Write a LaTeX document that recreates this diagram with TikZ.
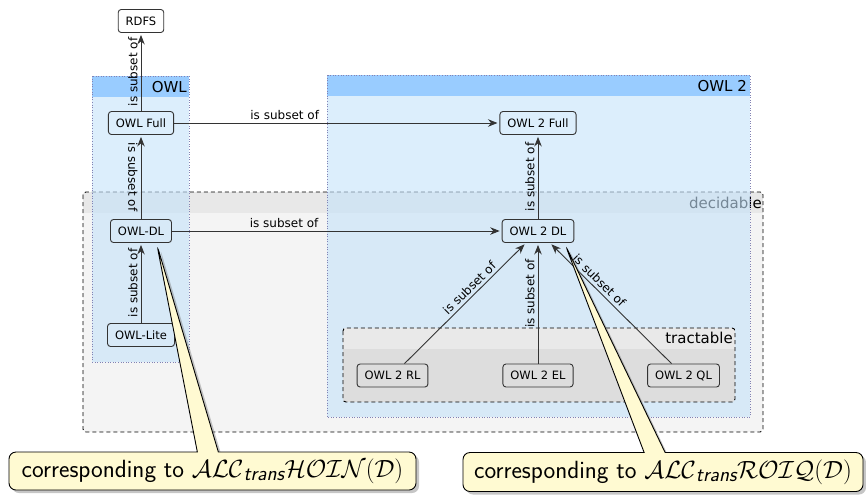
\documentclass[tikz,border=0pt]{standalone}
\usepackage{amsmath}
\usepackage{fontspec}
\setmainfont{DejaVu Sans}
\usetikzlibrary{arrows.meta,shapes.callouts,shadows,calc}
\definecolor{owlfill}{RGB}{196,226,250}
\definecolor{owlhead}{RGB}{85,170,255}
\definecolor{owlline}{RGB}{130,130,180}
\definecolor{decfill}{RGB}{244,244,244}
\definecolor{dechead}{RGB}{232,232,232}
\definecolor{trbody}{RGB}{221,221,221}
\definecolor{trhead}{RGB}{233,233,233}
\definecolor{notefill}{RGB}{255,250,210}
\tikzset{
  lang/.style={draw=black!80, line width=.9pt, rounded corners=3pt, inner xsep=7.5pt, minimum height=23pt, font=\fontsize{11.5}{13}\selectfont},
  sub/.style={-{Stealth[length=9.5pt,width=7.5pt]}, black!80, line width=.9pt, shorten >=2pt},
  lbl/.style={text=black, font=\fontsize{12}{14}\selectfont, inner sep=3pt},
  title/.style={anchor=east, inner sep=0pt, font=\fontsize{15}{17}\selectfont},
  area/.style={line width=.9pt, dash pattern=on 4pt off 3pt, rounded corners=3pt},
  note/.style={rectangle callout, draw=black, line width=.9pt, fill=notefill, rounded corners=7pt, callout pointer width=21pt,
    drop shadow={shadow xshift=3pt, shadow yshift=-3pt, opacity=.45}, font=\sffamily\Huge, inner xsep=10pt}
}
\begin{document}
\begin{tikzpicture}[x=1pt,y=-1pt]
\useasboundingbox (0,0) rectangle (866,499);
\begin{scope}
\clip[rounded corners=3pt] (83,192) rectangle (763,432);
\fill[decfill] (83,192) rectangle (763,432);
\fill[dechead] (83,192) rectangle (763,213);
\end{scope}
\draw[area] (83,192) rectangle (763,432);
\node[title] (decidable) at (762,203) {decidable};
\fill[owlfill, fill opacity=.6] (92,97) rectangle (189,362);
\fill[owlhead, fill opacity=.6] (92,76) rectangle (189,97);
\draw[owlline, dotted, line width=.6pt] (92,76) rectangle (189,362);
\node[title] (owl) at (187,87) {OWL};
\fill[owlfill, fill opacity=.6] (327,96) rectangle (750,417);
\fill[owlhead, fill opacity=.6] (327,75) rectangle (750,96);
\draw[owlline, dotted, line width=.6pt] (327,75) rectangle (750,417);
\node[title] (owl2) at (747,86) {OWL 2};
\begin{scope}
\clip[rounded corners=3pt] (343,328) rectangle (735,402);
\fill[trbody] (343,328) rectangle (735,402);
\fill[trhead] (343,328) rectangle (735,349);
\end{scope}
\draw[area] (343,328) rectangle (735,402);
\node[title] (tractable) at (733,338) {tractable};
\node[lang] (rdfs) at (141,21) {RDFS};
\node[lang] (owlfull) at (141,123) {OWL Full};
\node[lang] (owldl) at (141,231) {OWL-DL};
\node[lang] (owllite) at (141,335) {OWL-Lite};
\node[lang] (owl2full) at (538,123) {OWL 2 Full};
\node[lang] (owl2dl) at (538,231) {OWL 2 DL};
\node[lang] (owl2rl) at (392.5,375.5) {OWL 2 RL};
\node[lang] (owl2el) at (538,375.5) {OWL 2 EL};
\node[lang] (owl2ql) at (683.5,375.5) {OWL 2 QL};
\draw[sub] (owlfull) -- node[lbl, midway, above, sloped] {is subset of} (rdfs);
\draw[sub] (owldl) -- node[lbl, midway, rotate=-90, anchor=north] {is subset of} (owlfull);
\draw[sub] (owllite) -- node[lbl, midway, above, sloped] {is subset of} (owldl);
\draw[sub] (owlfull) -- node[lbl, pos=.34, above] {is subset of} (owl2full);
\draw[sub] (owldl) -- node[lbl, pos=.34, above] {is subset of} (owl2dl);
\draw[sub] (owl2dl) -- node[lbl, midway, above, sloped] {is subset of} (owl2full);
\draw[sub] (owl2rl) -- node[lbl, pos=.58, above, sloped] {is subset of} (owl2dl);
\draw[sub] (owl2el) -- node[lbl, pos=.58, above, sloped] {is subset of} (owl2dl);
\draw[sub] (owl2ql) -- node[lbl, pos=.64, above, sloped] {is subset of} (owl2dl);
\coordinate (tipA) at ($(owldl.south east)+(-15,2)$);
\coordinate (tipB) at ($(owl2dl.south east)+(-9,2)$);
\node[note, callout absolute pointer={(tipA)}, minimum width=407pt, minimum height=38pt] (noteA) at (212.5,471)
  {corresponding to $\mathcal{ALC}_{\textit{trans}}\mathcal{HOIN}(\mathcal{D})$};
\node[note, callout absolute pointer={(tipB)}, minimum width=400pt, minimum height=39pt] (noteB) at (663,472)
  {corresponding to $\mathcal{ALC}_{\textit{trans}}\mathcal{ROIQ}(\mathcal{D})$};
\end{tikzpicture}
\end{document}
